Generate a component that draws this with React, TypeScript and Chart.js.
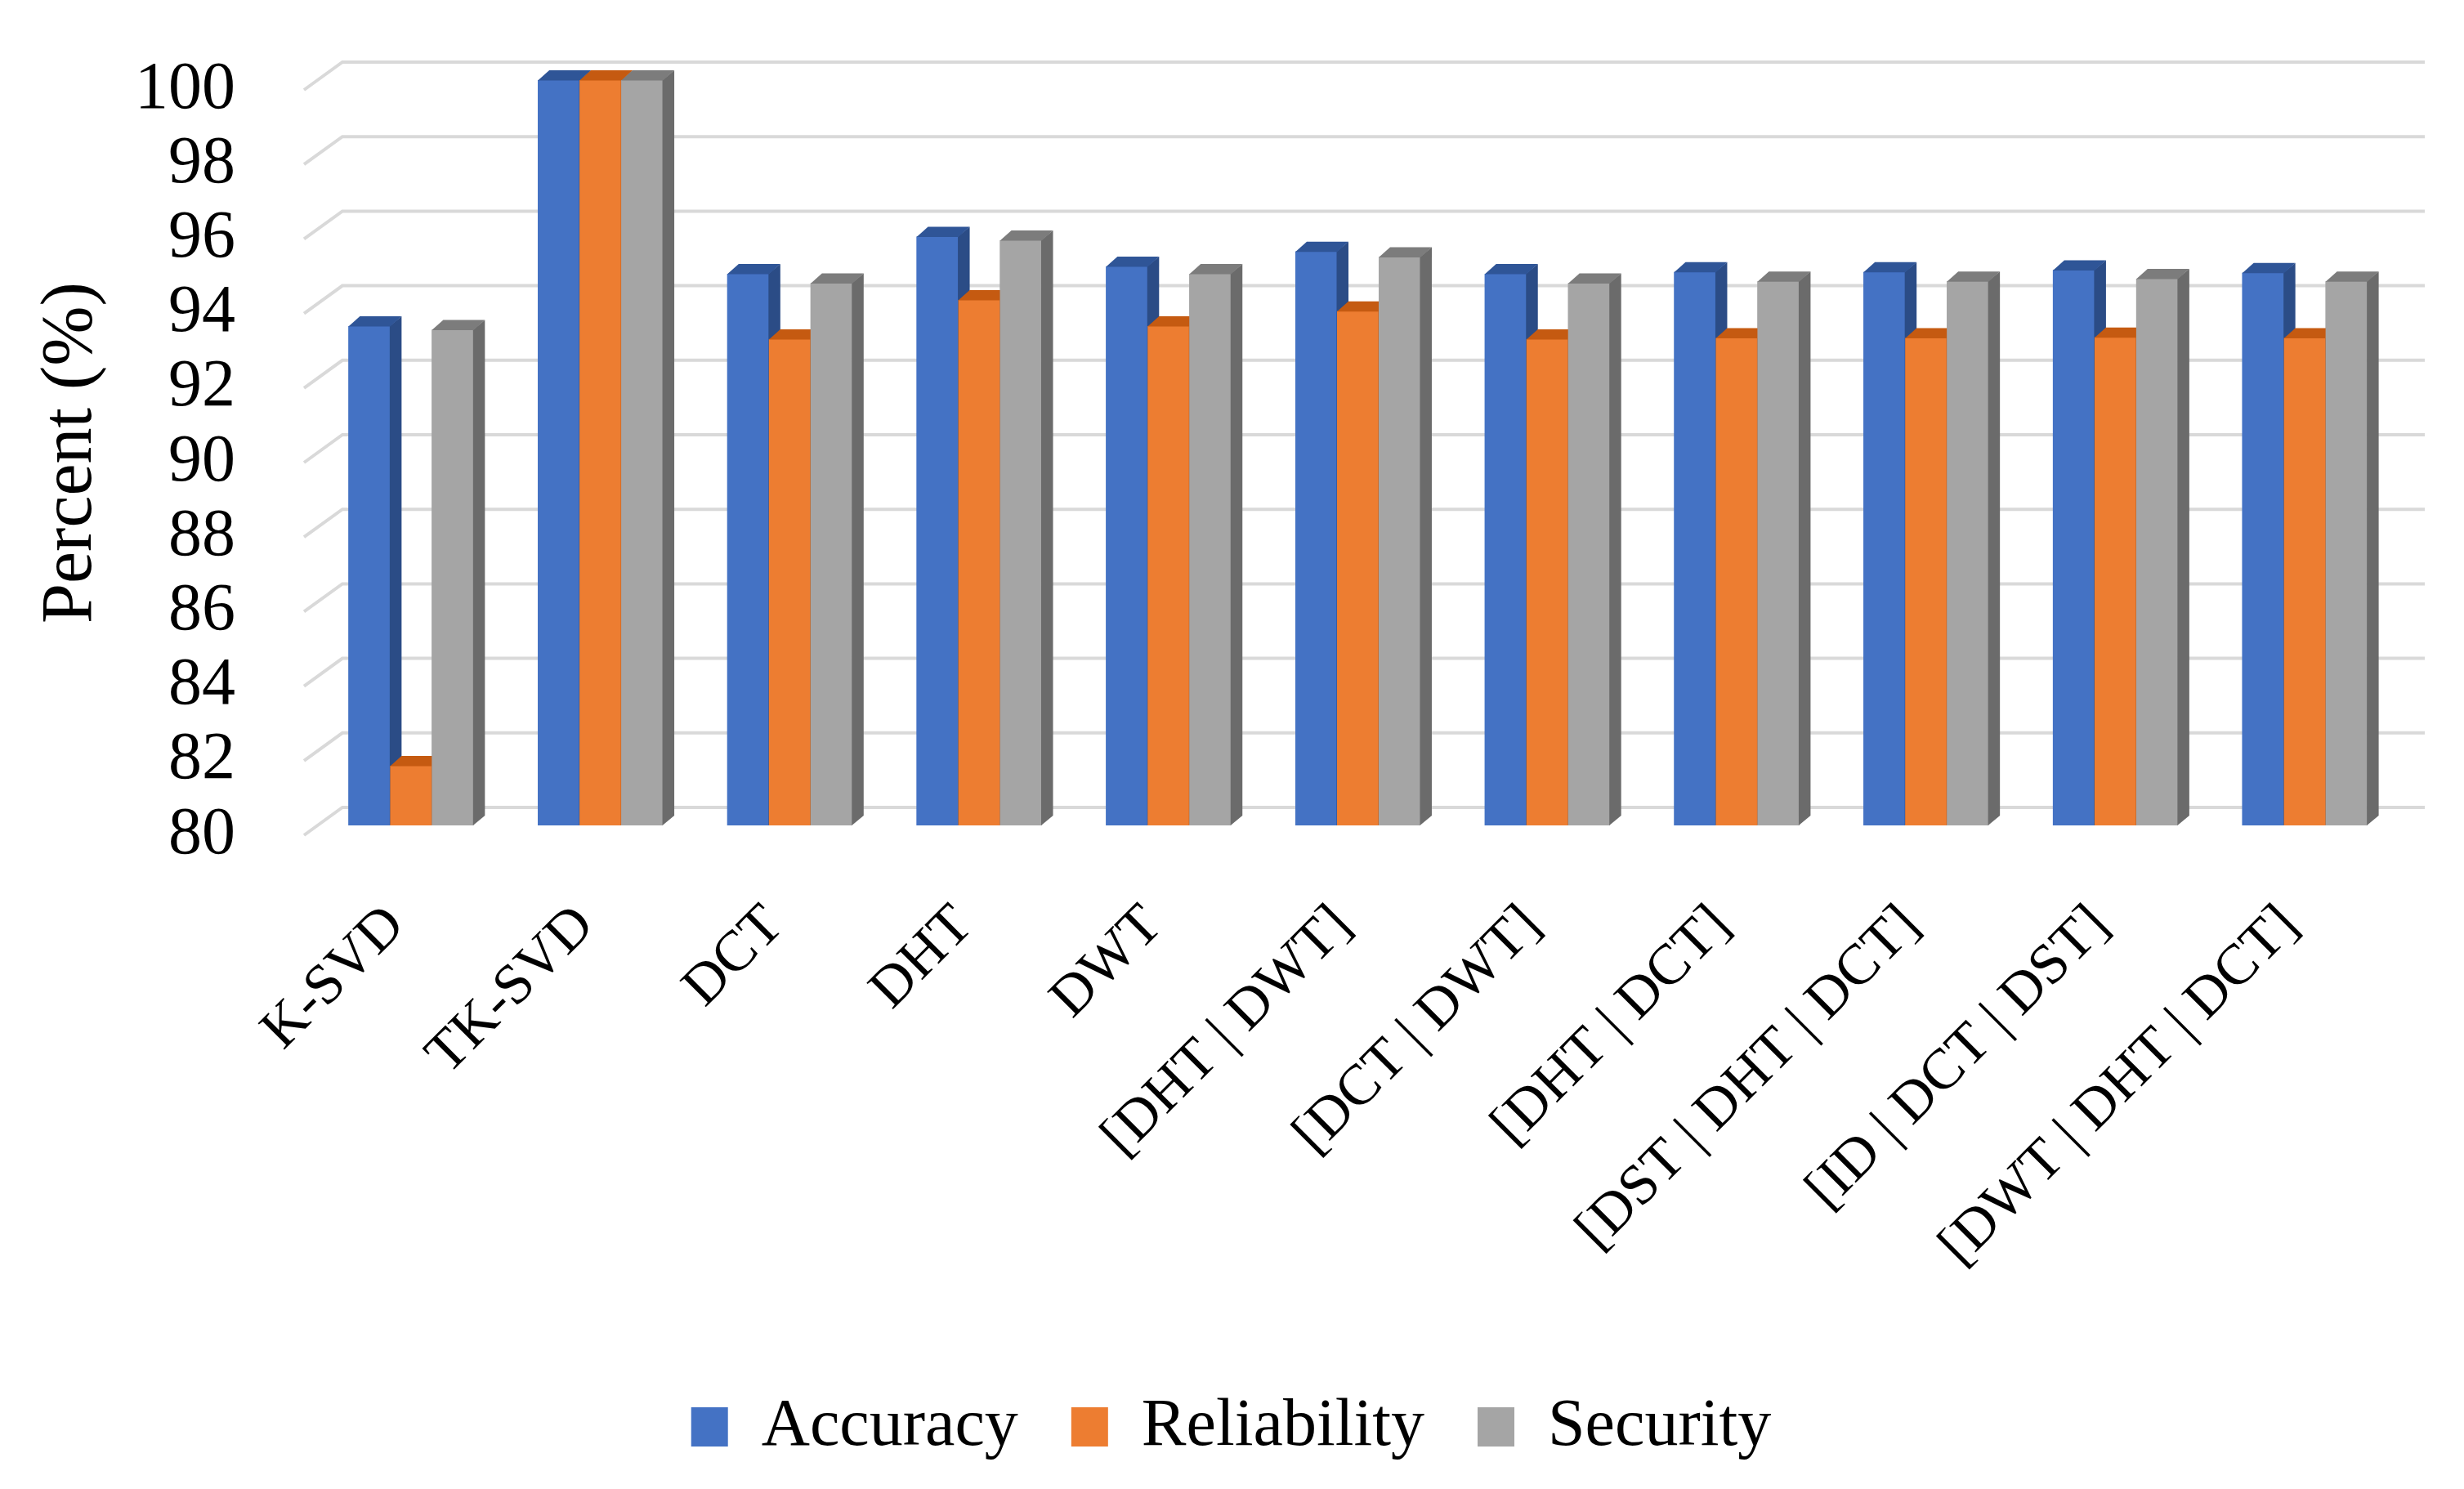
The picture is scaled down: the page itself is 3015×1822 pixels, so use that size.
import React, { useEffect, useRef } from "react";
import { Chart, registerables } from "chart.js";

Chart.register(...registerables);

const categories = [
  "K-SVD",
  "TK-SVD",
  "DCT",
  "DHT",
  "DWT",
  "[DHT | DWT]",
  "[DCT | DWT]",
  "[DHT | DCT]",
  "[DST | DHT | DCT]",
  "[ID | DCT | DST]",
  "[DWT | DHT | DCT]",
];

const seriesNames = ["Accuracy", "Reliability", "Security"];

const accuracy = [93.4, 100, 94.8, 95.8, 95.0, 95.4, 94.8, 94.85, 94.85, 94.9, 94.83];
const reliability = [81.6, 100, 93.05, 94.1, 93.4, 93.8, 93.05, 93.08, 93.08, 93.1, 93.08];
const security = [93.3, 100, 94.55, 95.7, 94.8, 95.25, 94.55, 94.6, 94.6, 94.67, 94.6];

const yMin = 80;
const yMax = 100;
const yStep = 2;

const FONT = "'Liberation Serif', 'Times New Roman', serif";

// 3D depth of each bar (side face / top cap)
const DX = 14;
const DY = 12;

const depthPlugin = {
  id: "depth3d",
  beforeDatasetsDraw(chart: any) {
    const { ctx, chartArea, scales } = chart;
    const y = scales.y;
    ctx.save();
    ctx.strokeStyle = "#D9D9D9";
    ctx.lineWidth = 4;
    y.ticks.forEach((t: any) => {
      const yp = y.getPixelForValue(t.value);
      ctx.beginPath();
      ctx.moveTo(chartArea.left - 15, yp + 12);
      ctx.lineTo(chartArea.left + 32, yp - 22);
      ctx.lineTo(chartArea.right + 31, yp - 22);
      ctx.stroke();
    });
    ctx.restore();
  },
  afterDatasetsDraw(chart: any) {
    const { ctx, scales } = chart;
    const base = scales.y.getPixelForValue(yMin);
    ctx.save();
    chart.data.datasets.forEach((ds: any, i: number) => {
      const meta = chart.getDatasetMeta(i);
      meta.data.forEach((bar: any) => {
        const { x, y, width } = bar.getProps(["x", "y", "width"], true);
        const l = x - width / 2;
        const r = x + width / 2;
        // front face
        ctx.fillStyle = ds.backgroundColor;
        ctx.fillRect(l, y, width, base - y);
        // side face
        ctx.fillStyle = ds.sideColor;
        ctx.beginPath();
        ctx.moveTo(r - 0.5, y);
        ctx.lineTo(r + DX, y - DY);
        ctx.lineTo(r + DX, base - DY);
        ctx.lineTo(r - 0.5, base);
        ctx.closePath();
        ctx.fill();
        // top cap
        ctx.fillStyle = ds.topColor;
        ctx.beginPath();
        ctx.moveTo(l, y + 0.5);
        ctx.lineTo(l + DX, y - DY);
        ctx.lineTo(r + DX, y - DY);
        ctx.lineTo(r, y + 0.5);
        ctx.closePath();
        ctx.fill();
      });
    });
    ctx.restore();
  },
};

export default function App() {
  const ref = useRef<HTMLCanvasElement | null>(null);

  useEffect(() => {
    document.body.style.margin = "0";
    const canvas = ref.current;
    if (!canvas) return;
    const chart = new Chart(canvas, {
      type: "bar",
      data: {
        labels: categories,
        datasets: [
          {
            label: seriesNames[0],
            data: accuracy,
            backgroundColor: "#4472C4",
            sideColor: "#2B4C86",
            topColor: "#2F5597",
          } as any,
          {
            label: seriesNames[1],
            data: reliability,
            backgroundColor: "#ED7D31",
            sideColor: "#B85A1C",
            topColor: "#C55A11",
          } as any,
          {
            label: seriesNames[2],
            data: security,
            backgroundColor: "#A5A5A5",
            sideColor: "#6B6B6B",
            topColor: "#7C7C7C",
          } as any,
        ],
      },
      options: {
        responsive: false,
        devicePixelRatio: 1,
        animation: false,
        color: "#000",
        datasets: {
          bar: {
            categoryPercentage: 0.66,
            barPercentage: 1.0,
            borderWidth: 0,
          },
        },
        layout: {
          padding: { top: 98, right: 79, bottom: 25, left: 77 },
        },
        plugins: {
          tooltip: { enabled: false },
          legend: {
            position: "bottom",
            labels: {
              font: { family: FONT, size: 82 },
              color: "#000",
              boxWidth: 45,
              boxHeight: 48,
              padding: 65,
            },
          },
        },
        scales: {
          x: {
            grid: { display: false, drawTicks: false },
            border: { display: false },
            ticks: {
              autoSkip: false,
              minRotation: 45,
              maxRotation: 45,
              padding: 82,
              labelOffset: -18,
              color: "#000",
              font: { family: FONT, size: 70 },
            },
            afterFit: (scale: any) => {
              scale.height = 630;
            },
          },
          y: {
            min: yMin,
            max: yMax,
            grid: { display: false, drawTicks: false },
            border: { display: false },
            ticks: {
              stepSize: yStep,
              autoSkip: false,
              padding: 99,
              labelOffset: 12,
              color: "#000",
              font: { family: FONT, size: 82 },
            },
            title: {
              display: true,
              text: "Percent (%)",
              color: "#000",
              font: { family: FONT, size: 88 },
              padding: { top: -42, bottom: 0 },
            },
            afterFit: (scale: any) => {
              scale.width = 310;
              scale.paddingTop = 0;
              scale.paddingBottom = 0;
            },
          },
        },
      },
      plugins: [depthPlugin],
    });
    return () => chart.destroy();
  }, []);

  return (
    <div style={{ width: 3015, height: 1822, background: "#fff" }}>
      <canvas ref={ref} width={3015} height={1822} style={{ display: "block" }} />
    </div>
  );
}
